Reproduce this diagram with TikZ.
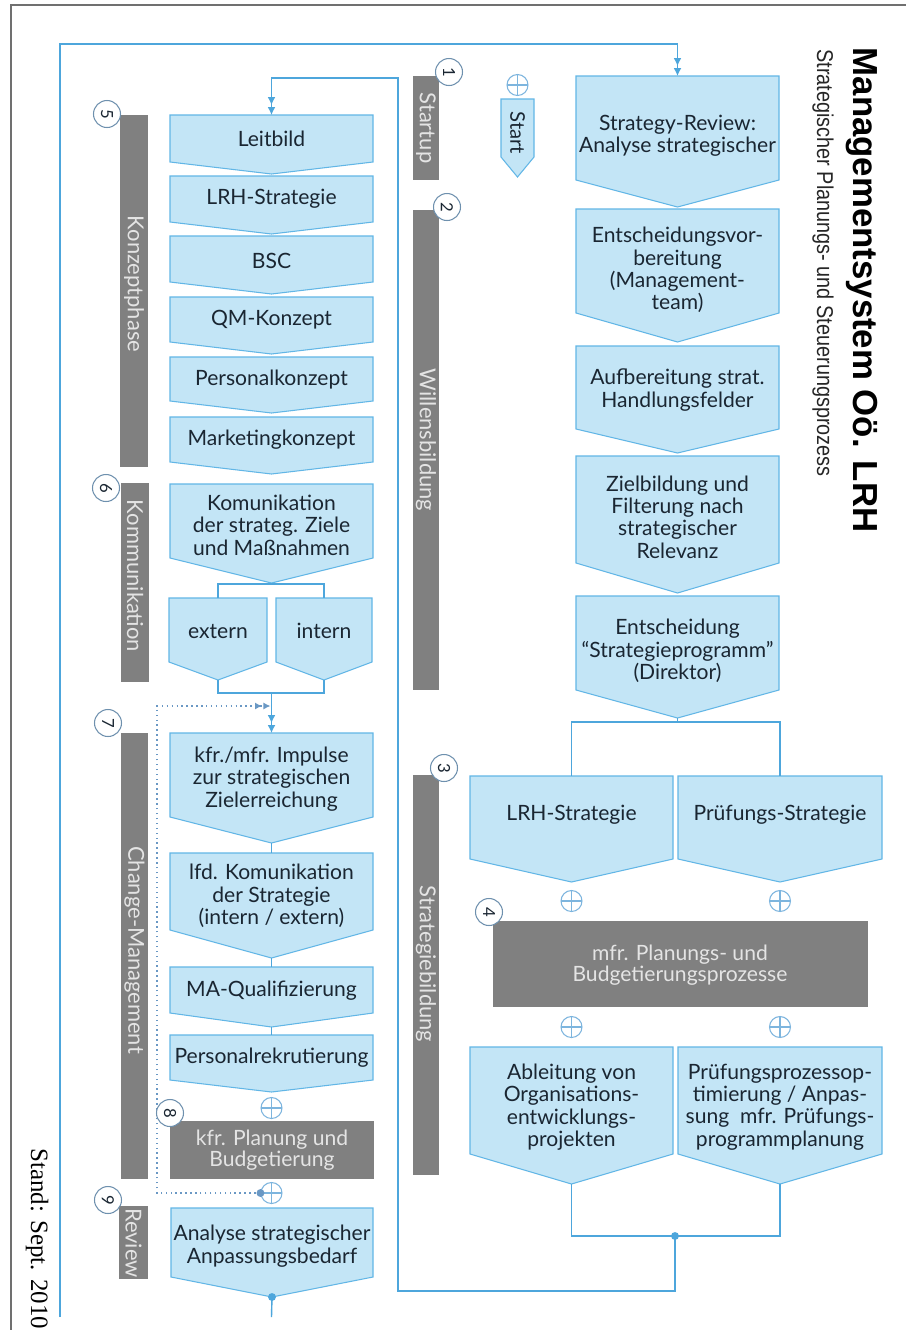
\documentclass[tikz,border=0pt]{standalone}
\usepackage{fontspec}
\setmainfont{Lato}
\newfontfamily\titlefont{Liberation Sans}
\newfontfamily\standfont{Liberation Serif}
\usetikzlibrary{arrows.meta}
\definecolor{boxfill}{HTML}{C3E5F6}
\definecolor{boxline}{HTML}{62B6E6}
\definecolor{connc}{HTML}{4DA6DC}
\definecolor{bargray}{HTML}{808080}
\definecolor{bartext}{HTML}{E4E4E4}
\definecolor{txt}{HTML}{1A2632}
\definecolor{numline}{HTML}{6E90AE}
\definecolor{dotline}{HTML}{6A98C4}
\definecolor{frameline}{HTML}{707070}
\definecolor{xorcol}{HTML}{7DB5DE}
\tikzset{
 chev/.style={fill=boxfill, draw=boxline, line width=0.6pt, line join=miter},
 boxtext/.style={align=center, text=txt, font=\fontsize{12}{12.7}\selectfont, inner sep=0pt},
 graytxt/.style={align=center, text=bartext, font=\fontsize{12}{11.6}\selectfont, inner sep=0pt},
 conn/.style={draw=connc, line width=0.8pt},
 dblarrow/.style={conn, -{Latex[length=4.5pt,width=4.5pt,sep=1.2pt]Latex[length=4.5pt,width=4.5pt]}},
 dotconn/.style={draw=dotline, line width=0.8pt, dotted, -{Latex[length=4pt,width=4pt,sep=0.8pt]Latex[length=4pt,width=4pt]}},
 bar/.style={fill=bargray},
 bartxt/.style={rotate=-90, text=bartext, font=\fontsize{12.5}{13}\selectfont, inner sep=0pt},
 numc/.style={circle, draw=numline, fill=white, line width=0.6pt, minimum size=0.54cm, inner sep=0pt, rotate=-90, text=txt, font=\fontsize{9.5}{10}\selectfont},
 dot/.style={circle, fill=connc, inner sep=0pt, minimum size=4.5pt},
 xor/.style={circle, draw=xorcol, fill=white, line width=0.6pt, minimum size=0.42cm, inner sep=0pt,
   path picture={\draw[xorcol, line width=0.6pt] (path picture bounding box.north) -- (path picture bounding box.south) (path picture bounding box.west) -- (path picture bounding box.east);}},
}
% #1 name, #2 xl, #3 xr, #4 ytop, #5 yside, #6 ytip, #7 text y, #8 text
\newcommand\chevron[8]{%
 \path[chev] (#2,#4) -- (#3,#4) -- (#3,#5) -- ({(#2+#3)/2},#6) -- (#2,#5) -- cycle;
 \coordinate (#1-top) at ({(#2+#3)/2},#4);
 \coordinate (#1-tip) at ({(#2+#3)/2},#6);
 \node[boxtext] (#1) at ({(#2+#3)/2},#7) {#8};
}
\begin{document}
\begin{tikzpicture}[x=0.02cm, y=-0.02cm]
\useasboundingbox (0,0) rectangle (906,1330);
\fill[white] (0,0) rectangle (906,1330);
% frame
\draw[frameline, line width=0.7pt] (11,1330) -- (11,5) -- (906,5);

% title
\node[rotate=-90, font=\titlefont\bfseries\fontsize{19.8}{21}\selectfont, inner sep=0pt] (title) at (862,290) {Managementsystem Oö. LRH};
\node[rotate=-90, font=\titlefont\fontsize{13}{14}\selectfont, inner sep=0pt, text=black!85] (subtitle) at (823,263) {\scalebox{0.87}[1]{Strategischer Planungs- und Steuerungsprozess}};
\node[rotate=-90, anchor=west, font=\standfont\fontsize{14.2}{15}\selectfont, inner sep=0pt] (stand) at (37,1148) {Stand: Sept. 2010};

% gray phase bars
\path[bar] (413,76) rectangle (439,180);
\node[bartxt] (startup) at (426,128) {Startup};
\path[bar] (413,210) rectangle (439,690);
\node[bartxt] (willen) at (426,440) {Willensbildung};
\path[bar] (413,775) rectangle (439,1175);
\node[bartxt] (strat) at (426,964) {Strategiebildung};
\path[bar] (120,115) rectangle (148,467);
\node[bartxt] (konz) at (134,284) {Konzeptphase};
\path[bar] (121,483) rectangle (149,682);
\node[bartxt] (komph) at (135,576) {Kommunikation};
\path[bar] (121,733) rectangle (148,1179);
\node[bartxt] (chm) at (134.5,950) {Change-Management};
\path[bar] (119,1206) rectangle (148,1279);
\node[bartxt] (rev) at (133.5,1243) {Review};

% left column
\chevron{leit}{170}{373}{115}{162}{174}{139}{Leitbild}
\chevron{lrhL}{170}{373}{176}{222}{234}{199}{LRH-Strategie}
\chevron{bsc}{170}{373}{236}{282}{294}{261}{BSC}
\chevron{qm}{170}{373}{297}{342}{354}{320}{QM-Konzept}
\chevron{pers}{170}{373}{357}{401}{413}{380}{Personalkonzept}
\chevron{mark}{170}{373}{417}{462}{474}{440}{Marketingkonzept}
\chevron{komm}{170}{373}{484}{558}{583}{525}{Komunikation\\der strateg. Ziele\\und Maßnahmen}
\chevron{ext}{169}{267}{598}{662}{680}{631}{extern}
\chevron{int}{276}{372}{598}{662}{680}{631}{intern}
\chevron{imp}{170}{373}{733}{817}{843}{779}{kfr./mfr. Impulse\\zur strategischen\\Zielerreichung}
\chevron{lfd}{170}{373}{853}{930}{958}{896}{lfd. Komunikation\\der Strategie\\(intern / extern)}
\chevron{maq}{170}{373}{967}{1013}{1027}{991}{MA-Qualifizierung}
\chevron{prk}{170}{373}{1035}{1080}{1092}{1058}{Personalrekrutierung}
\path[bar] (170,1121) rectangle (374,1179);
\node[graytxt] (kfr) at (272,1150) {kfr. Planung und\\Budgetierung};
\chevron{ana}{171}{373}{1208}{1277}{1297}{1246}{Analyse strategischer\\Anpassungsbedarf}

% right column
\path[chev] (501,99) -- (534,99) -- (534,157) -- (517.5,177) -- (501,157) -- cycle;
\node[rotate=-90, text=txt, font=\fontsize{11.5}{12}\selectfont, inner sep=0pt] (start) at (517.5,133) {Start};
\chevron{sr}{576}{779}{76}{180}{207}{136}{Strategy-Review:\\Analyse strategischer}
\chevron{ev}{576}{779}{209}{313}{342}{270}{Entscheidungsvor-\\bereitung\\(Management-\\team)}
\chevron{auf}{576}{779}{346}{429}{453}{390}{Aufbereitung strat.\\Handlungsfelder}
\chevron{ziel}{576}{779}{456}{563}{593}{517}{Zielbildung und\\Filterung nach\\strategischer\\Relevanz}
\chevron{ent}{576}{779}{596}{690}{718}{651}{Entscheidung\\“Strategieprogramm”\\(Direktor)}
\chevron{lrhR}{470}{673}{776}{859}{882}{815}{LRH-Strategie}
\chevron{pst}{678}{882}{776}{859}{882}{815}{Prüfungs-Strategie}
\path[bar] (493,921) rectangle (868,1007);
\node[graytxt] (mfr) at (680,965) {mfr. Planungs- und\\Budgetierungsprozesse};
\chevron{abl}{470}{673}{1047}{1154}{1184}{1107}{Ableitung von\\Organisations-\\entwicklungs-\\projekten}
\chevron{ppo}{678}{882}{1047}{1154}{1184}{1107}{Prüfungsprozessop-\\timierung / Anpas-\\sung~~mfr. Prüfungs-\\programmplanung}

% xor connectors
\node[xor] (xorS) at (517.5,85) {};
\node[xor] (xor1) at (271.5,1108) {};
\node[xor] (xor2) at (271.5,1193) {};
\node[xor] (xorA) at (571.5,901) {};
\node[xor] (xorB) at (780,901) {};
\node[xor] (xorC) at (571.5,1027) {};
\node[xor] (xorD) at (780,1027) {};

% stacked connectors
\draw[conn] (imp-tip) -- (lfd-top);
\draw[conn] (lfd-tip) -- (maq-top);
\draw[conn] (maq-tip) -- (prk-top);

% Kommunikation split / merge
\coordinate (kL) at (218,584);
\coordinate (kR) at (324,584);
\draw[conn] (komm-tip) -- (komm-tip |- kL);
\draw[conn] (ext-top) -- (kL) -- (kR) -- (int-top);
\coordinate (mL) at (218,693);
\coordinate (mR) at (324,693);
\coordinate (mC) at (271.5,693);
\draw[conn] (ext-tip) -- (mL) -- (mR) -- (int-tip);
\draw[dblarrow] (mC) -- (imp-top);

% dotted feedback
\coordinate (d1) at (157,1193);
\coordinate (d2) at (157,706);
\coordinate (d3) at (270.5,706);
\draw[dotconn] (xor2.west) -- (d1) -- (d2) -- (d3);
\node[dot, fill=dotline] (ddot) at (xor2.west) {};

% Entscheidung split
\coordinate (sL) at (571.5,722);
\coordinate (sR) at (780,722);
\draw[conn] (ent-tip) -- (ent-tip |- sL);
\draw[conn] (lrhR-top) -- (sL) -- (sR) -- (pst-top);

% bottom right merge and loop to Leitbild
\coordinate (jL) at (571.5,1236);
\coordinate (jR) at (780,1236);
\draw[conn] (abl-tip) -- (jL) -- (jR) -- (ppo-tip);
\node[dot] (jdot) at (675,1236) {};
\coordinate (c1) at (675,1291);
\coordinate (c2) at (398,1291);
\coordinate (c3) at (398,78);
\coordinate (c4) at (271.5,78);
\draw[dblarrow] (jdot.center) -- (c1) -- (c2) -- (c3) -- (c4) -- (leit-top);

% outer loop from Analyse to Strategy-Review
\coordinate (aEnd) at (271.5,1317);
\draw[conn] (ana-tip) -- (aEnd);
\node[dot] (adot) at (ana-tip) {};
\coordinate (bl) at (60,1317);
\coordinate (tl) at (60,44);
\coordinate (tr) at (677.5,44);
\draw[dblarrow] (bl) -- (tl) -- (tr) -- (sr-top);

% numbered circles
\node[numc] (n1) at (449,72) {1};
\node[numc] (n2) at (447,207) {2};
\node[numc] (n3) at (444,768) {3};
\node[numc] (n4) at (489,912) {4};
\node[numc] (n5) at (107,114) {5};
\node[numc] (n6) at (106,488) {6};
\node[numc] (n7) at (108,723) {7};
\node[numc] (n8) at (170,1113) {8};
\node[numc] (n9) at (108,1200) {9};
\end{tikzpicture}
\end{document}
